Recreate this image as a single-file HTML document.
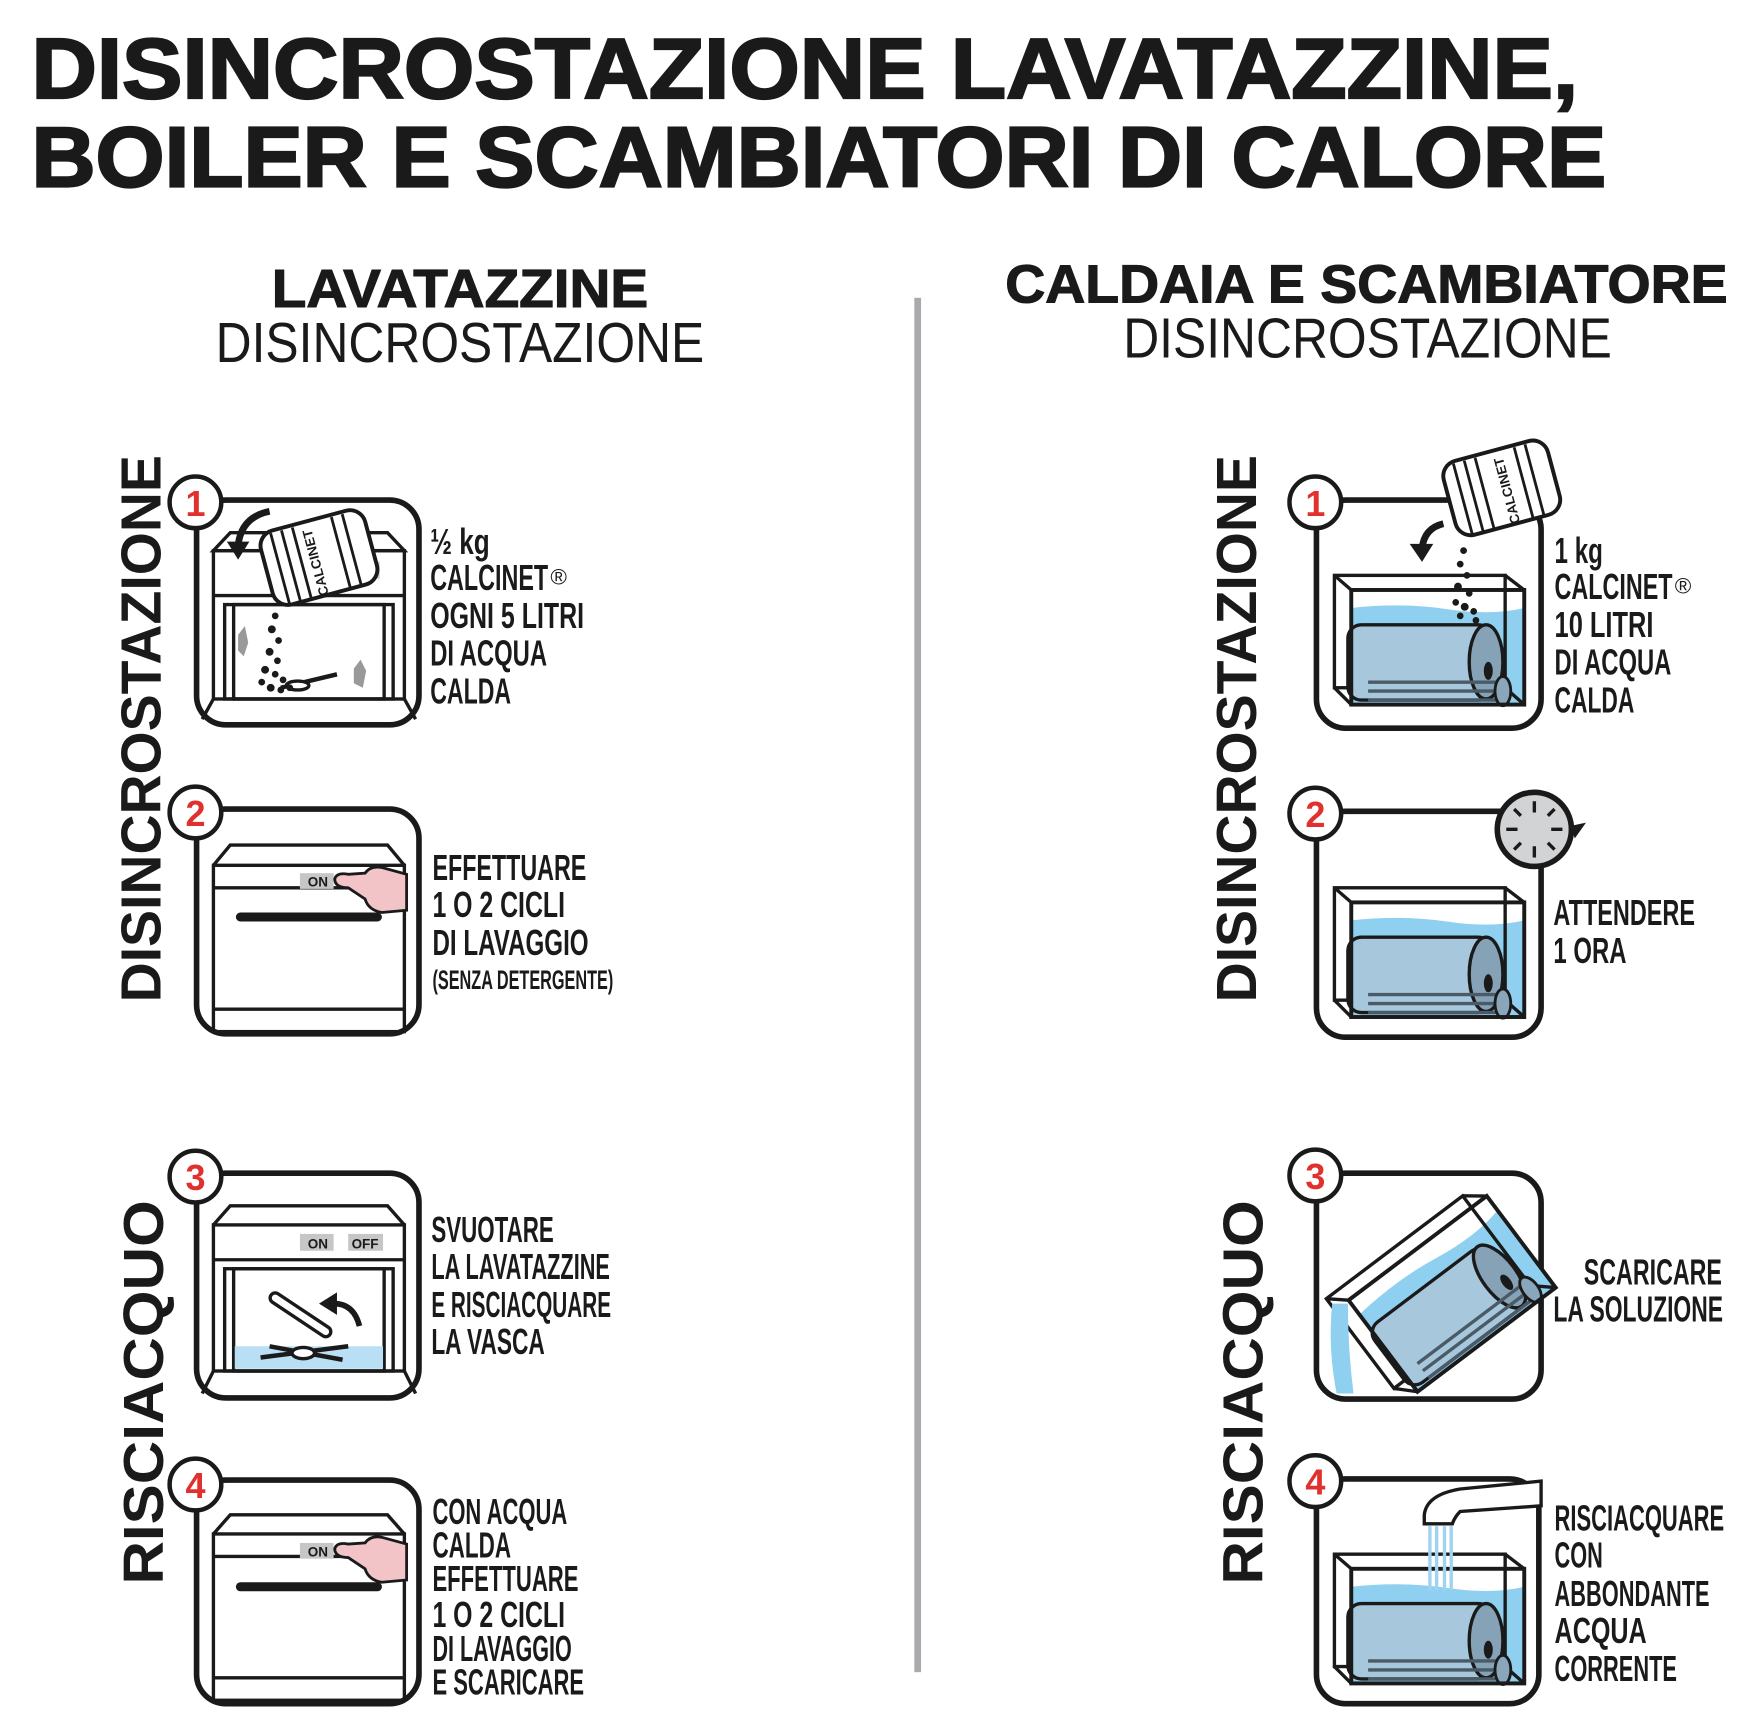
<!DOCTYPE html>
<html><head><meta charset="utf-8"><style>html,body{margin:0;padding:0;background:#fff}svg{display:block}</style></head>
<body>
<svg width="1759" height="1716" viewBox="0 0 1566 1527" preserveAspectRatio="none" xmlns="http://www.w3.org/2000/svg" font-family="Liberation Sans, sans-serif">
<defs>
<g id="tank">
  <path d="M15 29 Q60 24 100 30 T169 29 L169 115 L15 115 Z" fill="#8fd0f0"/>
  <path d="M0 0 L15 13 M152 0 L169 13 M0 100 L15 115 M152 100 L169 115" stroke="#1a1a1a" stroke-width="3"/>
  <rect x="0" y="0" width="152" height="100" fill="none" stroke="#1a1a1a" stroke-width="3"/>
  <rect x="12" y="44" width="128" height="67" rx="12" fill="#a7c8dc" stroke="#1a1a1a" stroke-width="3"/>
  <ellipse cx="135" cy="77" rx="15" ry="33" fill="#86a2b6" stroke="#1a1a1a" stroke-width="3"/>
  <ellipse cx="137" cy="85" rx="4" ry="8" fill="#1a1a1a"/>
  <path d="M30 95 H150 M30 103 H150 M30 111 H150" stroke="#4a5a66" stroke-width="3"/>
  <ellipse cx="150" cy="103" rx="7" ry="13" fill="#8aa6ba" stroke="#1a1a1a" stroke-width="2.5"/>
  <rect x="15" y="13" width="154" height="102" fill="none" stroke="#1a1a1a" stroke-width="3.5"/>
</g>
</defs>

<g fill="#1a1a1a" stroke="#1a1a1a" stroke-width="2" font-weight="bold">
<text x="28" y="87" font-size="76" textLength="1377" lengthAdjust="spacingAndGlyphs">DISINCROSTAZIONE LAVATAZZINE,</text>
<text x="28" y="166" font-size="76" textLength="1402" lengthAdjust="spacingAndGlyphs">BOILER E SCAMBIATORI DI CALORE</text>
</g>
<g fill="#1a1a1a">
<text x="242" y="273" font-size="48" font-weight="bold" stroke="#1a1a1a" stroke-width="1" textLength="335" lengthAdjust="spacingAndGlyphs">LAVATAZZINE</text>
<text x="192" y="322" font-size="50" textLength="435" lengthAdjust="spacingAndGlyphs">DISINCROSTAZIONE</text>
<text x="895" y="269" font-size="48" font-weight="bold" stroke="#1a1a1a" stroke-width="1" textLength="643" lengthAdjust="spacingAndGlyphs">CALDAIA E SCAMBIATORE</text>
<text x="1000" y="318" font-size="50" textLength="435" lengthAdjust="spacingAndGlyphs">DISINCROSTAZIONE</text>
</g>
<rect x="814" y="265" width="6" height="1223" fill="#a9a9ae"/>

<g fill="#1a1a1a" font-size="50" font-weight="bold">
<text transform="translate(143,892) rotate(-90)" textLength="487" lengthAdjust="spacingAndGlyphs">DISINCROSTAZIONE</text>
<text transform="translate(145,1410) rotate(-90)" textLength="342" lengthAdjust="spacingAndGlyphs">RISCIACQUO</text>
<text transform="translate(1118,892) rotate(-90)" textLength="487" lengthAdjust="spacingAndGlyphs">DISINCROSTAZIONE</text>
<text transform="translate(1124,1410) rotate(-90)" textLength="342" lengthAdjust="spacingAndGlyphs">RISCIACQUO</text>
</g>

<g fill="none" stroke="#1a1a1a" stroke-width="5">
<rect x="175" y="445" width="198" height="200" rx="26"/>
<rect x="175" y="720" width="198" height="200" rx="26"/>
<rect x="175" y="1044" width="198" height="200" rx="26"/>
<rect x="175" y="1317" width="198" height="199" rx="26"/>
<rect x="1172" y="445" width="200" height="203" rx="26"/>
<rect x="1172" y="722" width="200" height="201" rx="26"/>
<rect x="1172" y="1044" width="200" height="201" rx="26"/>
<rect x="1172" y="1316" width="198" height="200" rx="26"/>
</g>

<g stroke="#1a1a1a" stroke-width="3" fill="none">
<path d="M190 490 L205 474 L345 474 L360 490 Z"/>
<rect x="190" y="490" width="170" height="132"/>
<line x1="190" y1="530" x2="360" y2="530"/>
<rect x="200" y="538" width="150" height="84"/>
<rect x="208" y="538" width="134" height="84"/>
<path d="M190 622 L180 640 M360 622 L370 640"/>
<path d="M250 612 L300 600" stroke-width="4"/>
<ellipse cx="265" cy="610" rx="10" ry="4" fill="#fff"/>
</g>
<rect x="328" y="500" width="10" height="15" fill="#ccc"/>
<path d="M212 565 l6 -8 l3 15 l-4 12 l-5 -5z M315 595 l6 -8 l5 10 l-3 15 l-8 -4z" fill="#999"/>
<g fill="#1a1a1a">
<circle cx="245" cy="548" r="3"/><circle cx="242" cy="560" r="3.5"/><circle cx="248" cy="570" r="3"/><circle cx="240" cy="580" r="3.5"/><circle cx="247" cy="588" r="3"/><circle cx="236" cy="596" r="3.5"/><circle cx="245" cy="600" r="3"/><circle cx="252" cy="605" r="3"/><circle cx="233" cy="607" r="3"/><circle cx="241" cy="612" r="3.5"/><circle cx="250" cy="614" r="3"/><circle cx="258" cy="612" r="3"/>
</g>
<g transform="translate(285,500) rotate(-15)">
<rect x="-48" y="-38" width="96" height="68" rx="14" fill="#fff" stroke="#1a1a1a" stroke-width="3.5"/>
<path d="M-36 -36 V30 M-26 -36 V30 M-16 -36 V30 M20 -36 V30 M30 -36 V30" stroke="#1a1a1a" stroke-width="2.5"/>
<text x="0" y="8" transform="rotate(-90 0 0) translate(-30,-8)" font-size="12" font-weight="bold" fill="#1a1a1a">CALCINET</text>
</g>
<path d="M240 455 Q215 460 212 485" stroke="#1a1a1a" stroke-width="6" fill="none"/>
<path d="M202 482 L222 482 L212 498 Z" fill="#1a1a1a"/>

<g stroke="#1a1a1a" stroke-width="3" fill="none">
<path d="M190 770 L205 752 L345 752 L360 770"/>
<rect x="190" y="770" width="170" height="148"/>
<line x1="190" y1="790" x2="360" y2="790"/>
<line x1="190" y1="898" x2="360" y2="898"/>
</g>
<rect x="267" y="777" width="30" height="14" fill="#c6c6c6"/>
<text x="274" y="789" font-size="12" font-weight="bold" fill="#1a1a1a">ON</text>
<line x1="214" y1="816" x2="336" y2="816" stroke="#1a1a1a" stroke-width="8" stroke-linecap="round"/>
<path d="M298 782 Q300 776 310 778 L325 777 Q330 770 340 772 L362 778 L362 810 L340 812 Q328 810 325 800 L310 790 Q298 790 298 782 Z" fill="#f2c4c8" stroke="#1a1a1a" stroke-width="2.5"/>

<g stroke="#1a1a1a" stroke-width="3" fill="none">
<path d="M190 1090 L205 1073 L345 1073 L360 1090"/>
<rect x="190" y="1090" width="170" height="130"/>
<line x1="190" y1="1121" x2="360" y2="1121"/>
<rect x="200" y="1129" width="150" height="91"/>
<rect x="208" y="1129" width="134" height="91"/>
<path d="M190 1220 L180 1240 M360 1220 L370 1240"/>
</g>
<rect x="209" y="1198" width="132" height="20" fill="#b9dff5"/>
<rect x="267" y="1098" width="30" height="15" fill="#c6c6c6"/><text x="274" y="1111" font-size="12" font-weight="bold" fill="#1a1a1a">ON</text>
<rect x="310" y="1098" width="31" height="15" fill="#c6c6c6"/><text x="313" y="1111" font-size="12" font-weight="bold" fill="#1a1a1a">OFF</text>
<path d="M245 1155 L290 1185" stroke="#1a1a1a" stroke-width="12" stroke-linecap="round"/>
<path d="M245 1155 L290 1185" stroke="#fff" stroke-width="6" stroke-linecap="round"/>
<path d="M232 1208 L310 1198 M240 1198 L305 1210" stroke="#1a1a1a" stroke-width="4"/>
<ellipse cx="270" cy="1204" rx="10" ry="5" fill="#fff" stroke="#1a1a1a" stroke-width="3"/>
<path d="M320 1180 Q315 1160 297 1160" stroke="#1a1a1a" stroke-width="5" fill="none"/>
<path d="M284 1160 L300 1150 L300 1170 Z" fill="#1a1a1a"/>

<g stroke="#1a1a1a" stroke-width="3" fill="none">
<path d="M190 1365 L205 1348 L345 1348 L360 1365"/>
<rect x="190" y="1365" width="170" height="148"/>
<line x1="190" y1="1385" x2="360" y2="1385"/>
<line x1="190" y1="1493" x2="360" y2="1493"/>
</g>
<rect x="267" y="1373" width="30" height="14" fill="#c6c6c6"/>
<text x="274" y="1385" font-size="12" font-weight="bold" fill="#1a1a1a">ON</text>
<line x1="214" y1="1412" x2="336" y2="1412" stroke="#1a1a1a" stroke-width="8" stroke-linecap="round"/>
<path d="M298 1378 Q300 1372 310 1374 L325 1373 Q330 1366 340 1368 L362 1374 L362 1406 L340 1408 Q328 1406 325 1396 L310 1386 Q298 1386 298 1378 Z" fill="#f2c4c8" stroke="#1a1a1a" stroke-width="2.5"/>

<use href="#tank" x="1188" y="512"/>
<use href="#tank" x="1188" y="790"/>
<use href="#tank" x="1188" y="1383"/>
<g transform="translate(1283,1150) rotate(-37) translate(-85,-57)"><use href="#tank"/></g>
<path d="M1186 1160 Q1182 1200 1190 1240 L1205 1240 Q1200 1200 1200 1160Z" fill="#8fd0f0"/>

<g transform="translate(1338,438) rotate(-15)">
<rect x="-48" y="-38" width="96" height="68" rx="14" fill="#fff" stroke="#1a1a1a" stroke-width="3.5"/>
<path d="M-36 -36 V30 M-26 -36 V30 M-16 -36 V30 M20 -36 V30 M30 -36 V30" stroke="#1a1a1a" stroke-width="2.5"/>
<text x="0" y="0" transform="rotate(-90) translate(-30,8)" font-size="12" font-weight="bold" fill="#1a1a1a">CALCINET</text>
</g>
<g fill="#1a1a1a">
<circle cx="1303" cy="490" r="3"/><circle cx="1300" cy="502" r="3"/><circle cx="1306" cy="512" r="3"/><circle cx="1298" cy="522" r="3.5"/><circle cx="1308" cy="528" r="3"/><circle cx="1296" cy="536" r="3"/><circle cx="1304" cy="540" r="3.5"/><circle cx="1312" cy="544" r="3"/><circle cx="1300" cy="548" r="3"/><circle cx="1314" cy="552" r="3"/>
</g>
<path d="M1285 466 Q1268 470 1266 488" stroke="#1a1a1a" stroke-width="6" fill="none"/>
<path d="M1255 484 L1276 484 L1266 500 Z" fill="#1a1a1a"/>

<circle cx="1366" cy="738" r="33" fill="#d2d3d5" stroke="#1a1a1a" stroke-width="5"/>
<g stroke="#1a1a1a" stroke-width="3"><path d="M1366 713 v10 M1366 753 v10 M1341 738 h10 M1381 738 h10 M1348 720 l6 6 M1378 750 l6 6 M1348 756 l6 -6 M1378 726 l6 -6"/></g>
<path d="M1398 735 L1412 732 L1402 746 Z" fill="#1a1a1a"/>

<path d="M1268 1348 Q1270 1330 1300 1325 L1372 1318 L1372 1340 L1300 1345 Q1295 1350 1293 1356 L1268 1356 Z" fill="#fff" stroke="#1a1a1a" stroke-width="3"/>
<path d="M1273 1358 V1415 M1279 1358 V1415 M1286 1358 V1415 M1292 1358 V1415" stroke="#9fd3f2" stroke-width="3"/>

<g stroke="#1a1a1a" stroke-width="4" fill="#fff">
<circle cx="174" cy="447" r="23"/><circle cx="174" cy="723" r="23"/><circle cx="174" cy="1047" r="23"/><circle cx="174" cy="1321" r="23"/>
<circle cx="1171" cy="447" r="23"/><circle cx="1171" cy="724" r="23"/><circle cx="1171" cy="1046" r="23"/><circle cx="1171" cy="1318" r="23"/>
</g>
<g fill="#e0312e" font-size="32" font-weight="bold" text-anchor="middle">
<text x="174" y="459">1</text><text x="174" y="735">2</text><text x="174" y="1059">3</text><text x="174" y="1333">4</text>
<text x="1171" y="459">1</text><text x="1171" y="736">2</text><text x="1171" y="1058">3</text><text x="1171" y="1330">4</text>
</g>

<g fill="#1a1a1a" font-size="32" font-weight="bold">
<text x="383" y="493" textLength="53" lengthAdjust="spacingAndGlyphs">½ kg</text>
<text x="383" y="525" textLength="105" lengthAdjust="spacingAndGlyphs">CALCINET</text><text x="490" y="520" font-size="20" font-weight="normal">®</text>
<text x="383" y="559" textLength="137" lengthAdjust="spacingAndGlyphs">OGNI 5 LITRI</text>
<text x="383" y="592" textLength="104" lengthAdjust="spacingAndGlyphs">DI ACQUA</text>
<text x="383" y="626" textLength="72" lengthAdjust="spacingAndGlyphs">CALDA</text>

<text x="385" y="783" textLength="137" lengthAdjust="spacingAndGlyphs">EFFETTUARE</text>
<text x="385" y="816" textLength="118" lengthAdjust="spacingAndGlyphs">1 O 2 CICLI</text>
<text x="385" y="850" textLength="139" lengthAdjust="spacingAndGlyphs">DI LAVAGGIO</text>
<text x="385" y="880" font-size="24" textLength="161" lengthAdjust="spacingAndGlyphs">(SENZA DETERGENTE)</text>

<text x="384" y="1105" textLength="109" lengthAdjust="spacingAndGlyphs">SVUOTARE</text>
<text x="384" y="1138" textLength="159" lengthAdjust="spacingAndGlyphs">LA LAVATAZZINE</text>
<text x="384" y="1172" textLength="160" lengthAdjust="spacingAndGlyphs">E RISCIACQUARE</text>
<text x="384" y="1205" textLength="101" lengthAdjust="spacingAndGlyphs">LA VASCA</text>

<text x="385" y="1356" textLength="120" lengthAdjust="spacingAndGlyphs">CON ACQUA</text>
<text x="385" y="1386" textLength="70" lengthAdjust="spacingAndGlyphs">CALDA</text>
<text x="385" y="1416" textLength="130" lengthAdjust="spacingAndGlyphs">EFFETTUARE</text>
<text x="385" y="1448" textLength="118" lengthAdjust="spacingAndGlyphs">1 O 2 CICLI</text>
<text x="385" y="1478" textLength="124" lengthAdjust="spacingAndGlyphs">DI LAVAGGIO</text>
<text x="385" y="1508" textLength="135" lengthAdjust="spacingAndGlyphs">E SCARICARE</text>

<text x="1384" y="501" textLength="43" lengthAdjust="spacingAndGlyphs">1 kg</text>
<text x="1384" y="533" textLength="105" lengthAdjust="spacingAndGlyphs">CALCINET</text><text x="1491" y="528" font-size="20" font-weight="normal">®</text>
<text x="1384" y="567" textLength="88" lengthAdjust="spacingAndGlyphs">10 LITRI</text>
<text x="1384" y="600" textLength="104" lengthAdjust="spacingAndGlyphs">DI ACQUA</text>
<text x="1384" y="634" textLength="71" lengthAdjust="spacingAndGlyphs">CALDA</text>

<text x="1383" y="823" textLength="126" lengthAdjust="spacingAndGlyphs">ATTENDERE</text>
<text x="1383" y="857" textLength="65" lengthAdjust="spacingAndGlyphs">1 ORA</text>

<text x="1410" y="1143" textLength="123" lengthAdjust="spacingAndGlyphs">SCARICARE</text>
<text x="1383" y="1176" textLength="151" lengthAdjust="spacingAndGlyphs">LA SOLUZIONE</text>

<text x="1384" y="1362" textLength="151" lengthAdjust="spacingAndGlyphs">RISCIACQUARE</text>
<text x="1384" y="1395" textLength="43" lengthAdjust="spacingAndGlyphs">CON</text>
<text x="1384" y="1429" textLength="138" lengthAdjust="spacingAndGlyphs">ABBONDANTE</text>
<text x="1384" y="1462" textLength="82" lengthAdjust="spacingAndGlyphs">ACQUA</text>
<text x="1384" y="1496" textLength="109" lengthAdjust="spacingAndGlyphs">CORRENTE</text>
</g>
</svg>
</body></html>
